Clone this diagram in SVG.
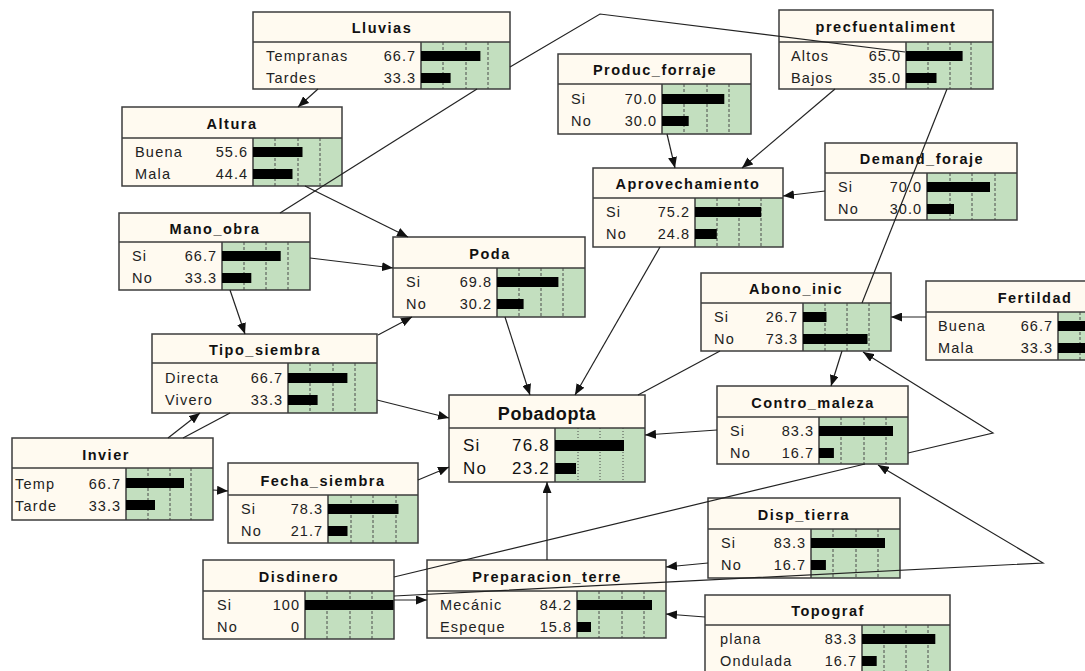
<svg xmlns="http://www.w3.org/2000/svg" width="1085" height="671" viewBox="0 0 1085 671">
<style>
.box{fill:#fffaf0}
.bg{fill:#c3dfbf}
.frame{fill:none;stroke:#3c3c3c;stroke-width:1.5}
.sep{stroke:#3c3c3c;stroke-width:1.5}
.dv{stroke:#4a4a4a;stroke-width:1;stroke-dasharray:3,2}
.dt{stroke:#4a4a4a;stroke-width:1;stroke-dasharray:1,2}
.bar{fill:#000}
.t{font-family:"Liberation Sans",Arial,sans-serif;font-weight:bold;font-size:14.5px;letter-spacing:1.5px;text-anchor:middle;fill:#111}
.l{font-family:"Liberation Sans",Arial,sans-serif;font-size:14.5px;letter-spacing:1.2px;fill:#222}
.v{font-family:"Liberation Sans",Arial,sans-serif;font-size:14.5px;letter-spacing:1px;fill:#222;text-anchor:end}
.tb{font-family:"Liberation Sans",Arial,sans-serif;font-weight:bold;font-size:18px;letter-spacing:0.6px;text-anchor:middle;fill:#111}
.lb{font-family:"Liberation Sans",Arial,sans-serif;font-size:17px;letter-spacing:1.2px;fill:#111}
.vb{font-family:"Liberation Sans",Arial,sans-serif;font-size:17px;letter-spacing:1.2px;fill:#111;text-anchor:end}
.c{fill:none;stroke:#222;stroke-width:1.2}
.ca{fill:none;stroke:#222;stroke-width:1.2;marker-end:url(#a)}
</style>
<defs>
<marker id="a" markerUnits="userSpaceOnUse" markerWidth="11" markerHeight="9" refX="11" refY="4.5" orient="auto">
<path d="M0,0 L11,4.5 L0,9 z" fill="#111"/>
</marker>
</defs>

<g id="n-lluvias">
<rect class="box" x="253" y="12" width="257" height="77"/>
<rect class="bg" x="421" y="42" width="89" height="47"/>
<line class="dv" x1="443" y1="42" x2="443" y2="89"/><line class="dv" x1="466" y1="42" x2="466" y2="89"/><line class="dv" x1="488" y1="42" x2="488" y2="89"/>
<line class="sep" x1="253" y1="42" x2="510" y2="42"/><line class="sep" x1="421" y1="42" x2="421" y2="89"/>
<text class="t" x="382" y="33">Lluvias</text>
<text class="l" x="266" y="61">Tempranas</text><text class="v" x="416" y="61">66.7</text>
<text class="l" x="266" y="83">Tardes</text><text class="v" x="416" y="83">33.3</text>
<rect class="bar" x="421" y="51" width="59.4" height="10"/><rect class="bar" x="421" y="73" width="29.6" height="10"/>
<rect class="frame" x="253" y="12" width="257" height="77"/>
</g>

<g id="n-altura">
<rect class="box" x="122" y="107" width="220" height="79"/>
<rect class="bg" x="253" y="138" width="89" height="48"/>
<line class="dv" x1="275" y1="138" x2="275" y2="186"/><line class="dv" x1="298" y1="138" x2="298" y2="186"/><line class="dv" x1="320" y1="138" x2="320" y2="186"/>
<line class="sep" x1="122" y1="138" x2="342" y2="138"/><line class="sep" x1="253" y1="138" x2="253" y2="186"/>
<text class="t" x="232" y="129">Altura</text>
<text class="l" x="135" y="157">Buena</text><text class="v" x="248" y="157">55.6</text>
<text class="l" x="135" y="179">Mala</text><text class="v" x="248" y="179">44.4</text>
<rect class="bar" x="253" y="147" width="49.5" height="10"/><rect class="bar" x="253" y="169" width="39.5" height="10"/>
<rect class="frame" x="122" y="107" width="220" height="79"/>
</g>

<g id="n-produc">
<rect class="box" x="558" y="54" width="193" height="80"/>
<rect class="bg" x="662" y="84" width="89" height="50"/>
<line class="dv" x1="684" y1="84" x2="684" y2="134"/><line class="dv" x1="707" y1="84" x2="707" y2="134"/><line class="dv" x1="729" y1="84" x2="729" y2="134"/>
<line class="sep" x1="558" y1="84" x2="751" y2="84"/><line class="sep" x1="662" y1="84" x2="662" y2="134"/>
<text class="t" x="655" y="75">Produc_forraje</text>
<text class="l" x="571" y="104">Si</text><text class="v" x="657" y="104">70.0</text>
<text class="l" x="571" y="126">No</text><text class="v" x="657" y="126">30.0</text>
<rect class="bar" x="662" y="94" width="62.3" height="10"/><rect class="bar" x="662" y="116" width="26.7" height="10"/>
<rect class="frame" x="558" y="54" width="193" height="80"/>
</g>

<g id="n-precf">
<rect class="box" x="779" y="10" width="214" height="79"/>
<rect class="bg" x="906" y="42" width="87" height="47"/>
<line class="dv" x1="928" y1="42" x2="928" y2="89"/><line class="dv" x1="950" y1="42" x2="950" y2="89"/><line class="dv" x1="971" y1="42" x2="971" y2="89"/>
<line class="sep" x1="779" y1="42" x2="993" y2="42"/><line class="sep" x1="906" y1="42" x2="906" y2="89"/>
<text class="t" x="886" y="32">precfuentaliment</text>
<text class="l" x="791" y="61">Altos</text><text class="v" x="901" y="61">65.0</text>
<text class="l" x="791" y="83">Bajos</text><text class="v" x="901" y="83">35.0</text>
<rect class="bar" x="906" y="51" width="56.6" height="10"/><rect class="bar" x="906" y="73" width="30.5" height="10"/>
<rect class="frame" x="779" y="10" width="214" height="79"/>
</g>

<g id="n-aprov">
<rect class="box" x="593" y="168" width="190" height="79"/>
<rect class="bg" x="695" y="198" width="88" height="49"/>
<line class="dv" x1="717" y1="198" x2="717" y2="247"/><line class="dv" x1="739" y1="198" x2="739" y2="247"/><line class="dv" x1="761" y1="198" x2="761" y2="247"/>
<line class="sep" x1="593" y1="198" x2="783" y2="198"/><line class="sep" x1="695" y1="198" x2="695" y2="247"/>
<text class="t" x="688" y="189">Aprovechamiento</text>
<text class="l" x="606" y="217">Si</text><text class="v" x="690" y="217">75.2</text>
<text class="l" x="606" y="239">No</text><text class="v" x="690" y="239">24.8</text>
<rect class="bar" x="695" y="207" width="66.2" height="10"/><rect class="bar" x="695" y="229" width="21.8" height="10"/>
<rect class="frame" x="593" y="168" width="190" height="79"/>
</g>

<g id="n-demand">
<rect class="box" x="825" y="143" width="192" height="77"/>
<rect class="bg" x="927" y="173" width="90" height="47"/>
<line class="dv" x1="950" y1="173" x2="950" y2="220"/><line class="dv" x1="972" y1="173" x2="972" y2="220"/><line class="dv" x1="995" y1="173" x2="995" y2="220"/>
<line class="sep" x1="825" y1="173" x2="1017" y2="173"/><line class="sep" x1="927" y1="173" x2="927" y2="220"/>
<text class="t" x="922" y="164">Demand_foraje</text>
<text class="l" x="838" y="192">Si</text><text class="v" x="922" y="192">70.0</text>
<text class="l" x="838" y="214">No</text><text class="v" x="922" y="214">30.0</text>
<rect class="bar" x="927" y="182" width="63" height="10"/><rect class="bar" x="927" y="204" width="27" height="10"/>
<rect class="frame" x="825" y="143" width="192" height="77"/>
</g>

<g id="n-mano">
<rect class="box" x="119" y="213" width="191" height="77"/>
<rect class="bg" x="222" y="242" width="88" height="48"/>
<line class="dv" x1="244" y1="242" x2="244" y2="290"/><line class="dv" x1="266" y1="242" x2="266" y2="290"/><line class="dv" x1="288" y1="242" x2="288" y2="290"/>
<line class="sep" x1="119" y1="242" x2="310" y2="242"/><line class="sep" x1="222" y1="242" x2="222" y2="290"/>
<text class="t" x="215" y="234">Mano_obra</text>
<text class="l" x="132" y="261">Si</text><text class="v" x="217" y="261">66.7</text>
<text class="l" x="132" y="283">No</text><text class="v" x="217" y="283">33.3</text>
<rect class="bar" x="222" y="251" width="58.7" height="10"/><rect class="bar" x="222" y="273" width="29.3" height="10"/>
<rect class="frame" x="119" y="213" width="191" height="77"/>
</g>

<g id="n-poda">
<rect class="box" x="393" y="237" width="192" height="80"/>
<rect class="bg" x="497" y="268" width="88" height="49"/>
<line class="dv" x1="519" y1="268" x2="519" y2="317"/><line class="dv" x1="541" y1="268" x2="541" y2="317"/><line class="dv" x1="563" y1="268" x2="563" y2="317"/>
<line class="sep" x1="393" y1="268" x2="585" y2="268"/><line class="sep" x1="497" y1="268" x2="497" y2="317"/>
<text class="t" x="490" y="259">Poda</text>
<text class="l" x="406" y="287">Si</text><text class="v" x="492" y="287">69.8</text>
<text class="l" x="406" y="309">No</text><text class="v" x="492" y="309">30.2</text>
<rect class="bar" x="497" y="277" width="61.4" height="10"/><rect class="bar" x="497" y="299" width="26.6" height="10"/>
<rect class="frame" x="393" y="237" width="192" height="80"/>
</g>

<g id="n-abono">
<rect class="box" x="701" y="273" width="190" height="78"/>
<rect class="bg" x="803" y="303" width="88" height="48"/>
<line class="dv" x1="825" y1="303" x2="825" y2="351"/><line class="dv" x1="847" y1="303" x2="847" y2="351"/><line class="dv" x1="869" y1="303" x2="869" y2="351"/>
<line class="sep" x1="701" y1="303" x2="891" y2="303"/><line class="sep" x1="803" y1="303" x2="803" y2="351"/>
<text class="t" x="796" y="294">Abono_inic</text>
<text class="l" x="714" y="322">Si</text><text class="v" x="798" y="322">26.7</text>
<text class="l" x="714" y="344">No</text><text class="v" x="798" y="344">73.3</text>
<rect class="bar" x="803" y="312" width="23.5" height="10"/><rect class="bar" x="803" y="334" width="64.5" height="10"/>
<rect class="frame" x="701" y="273" width="190" height="78"/>
</g>

<g id="n-fertildad">
<rect class="box" x="926" y="281" width="218" height="79"/>
<rect class="bg" x="1058" y="312" width="86" height="48"/>
<line class="dv" x1="1080" y1="312" x2="1080" y2="360"/><line class="dv" x1="1101" y1="312" x2="1101" y2="360"/><line class="dv" x1="1123" y1="312" x2="1123" y2="360"/>
<line class="sep" x1="926" y1="312" x2="1144" y2="312"/><line class="sep" x1="1058" y1="312" x2="1058" y2="360"/>
<text class="t" x="1035" y="303">Fertildad</text>
<text class="l" x="938" y="331">Buena</text><text class="v" x="1053" y="331">66.7</text>
<text class="l" x="938" y="353">Mala</text><text class="v" x="1053" y="353">33.3</text>
<rect class="bar" x="1058" y="321" width="57" height="10"/><rect class="bar" x="1058" y="343" width="29" height="10"/>
<rect class="frame" x="926" y="281" width="218" height="79"/>
</g>

<g id="n-tipo">
<rect class="box" x="152" y="334" width="225" height="79"/>
<rect class="bg" x="288" y="363" width="89" height="50"/>
<line class="dv" x1="310" y1="363" x2="310" y2="413"/><line class="dv" x1="333" y1="363" x2="333" y2="413"/><line class="dv" x1="355" y1="363" x2="355" y2="413"/>
<line class="sep" x1="152" y1="363" x2="377" y2="363"/><line class="sep" x1="288" y1="363" x2="288" y2="413"/>
<text class="t" x="265" y="355">Tipo_siembra</text>
<text class="l" x="165" y="383">Directa</text><text class="v" x="283" y="383">66.7</text>
<text class="l" x="165" y="405">Vivero</text><text class="v" x="283" y="405">33.3</text>
<rect class="bar" x="288" y="373" width="59.4" height="10"/><rect class="bar" x="288" y="395" width="29.6" height="10"/>
<rect class="frame" x="152" y="334" width="225" height="79"/>
</g>

<g id="n-pobadopta">
<rect class="box" x="449" y="395" width="196" height="87"/>
<rect class="bg" x="555" y="428" width="90" height="54"/>
<line class="dt" x1="578" y1="428" x2="578" y2="482"/><line class="dt" x1="600" y1="428" x2="600" y2="482"/><line class="dt" x1="623" y1="428" x2="623" y2="482"/>
<line class="sep" x1="449" y1="428" x2="645" y2="428"/><line class="sep" x1="555" y1="428" x2="555" y2="482"/>
<text class="tb" x="547" y="420">Pobadopta</text>
<text class="lb" x="463" y="451">Si</text><text class="vb" x="550" y="451">76.8</text>
<text class="lb" x="463" y="474">No</text><text class="vb" x="550" y="474">23.2</text>
<rect class="bar" x="555" y="440" width="69" height="11"/><rect class="bar" x="555" y="463" width="21" height="11"/>
<rect class="frame" x="449" y="395" width="196" height="87"/>
</g>

<g id="n-invier">
<rect class="box" x="12" y="438" width="201" height="82"/>
<rect class="bg" x="126" y="468" width="87" height="52"/>
<line class="dv" x1="148" y1="468" x2="148" y2="520"/><line class="dv" x1="170" y1="468" x2="170" y2="520"/><line class="dv" x1="191" y1="468" x2="191" y2="520"/>
<line class="sep" x1="12" y1="468" x2="213" y2="468"/><line class="sep" x1="126" y1="468" x2="126" y2="520"/>
<text class="t" x="106" y="460">Invier</text>
<text class="l" x="15" y="489">Temp</text><text class="v" x="121" y="489">66.7</text>
<text class="l" x="15" y="511">Tarde</text><text class="v" x="121" y="511">33.3</text>
<rect class="bar" x="126" y="478" width="58" height="10"/><rect class="bar" x="126" y="500" width="29" height="10"/>
<rect class="frame" x="12" y="438" width="201" height="82"/>
</g>

<g id="n-fecha">
<rect class="box" x="228" y="463" width="190" height="80"/>
<rect class="bg" x="328" y="495" width="90" height="48"/>
<line class="dv" x1="351" y1="495" x2="351" y2="543"/><line class="dv" x1="373" y1="495" x2="373" y2="543"/><line class="dv" x1="396" y1="495" x2="396" y2="543"/>
<line class="sep" x1="228" y1="495" x2="418" y2="495"/><line class="sep" x1="328" y1="495" x2="328" y2="543"/>
<text class="t" x="323" y="486">Fecha_siembra</text>
<text class="l" x="241" y="514">Si</text><text class="v" x="323" y="514">78.3</text>
<text class="l" x="241" y="536">No</text><text class="v" x="323" y="536">21.7</text>
<rect class="bar" x="328" y="504" width="70.5" height="10"/><rect class="bar" x="328" y="526" width="19.5" height="10"/>
<rect class="frame" x="228" y="463" width="190" height="80"/>
</g>

<g id="n-contro">
<rect class="box" x="717" y="386" width="191" height="78"/>
<rect class="bg" x="819" y="417" width="89" height="47"/>
<line class="dv" x1="841" y1="417" x2="841" y2="464"/><line class="dv" x1="864" y1="417" x2="864" y2="464"/><line class="dv" x1="886" y1="417" x2="886" y2="464"/>
<line class="sep" x1="717" y1="417" x2="908" y2="417"/><line class="sep" x1="819" y1="417" x2="819" y2="464"/>
<text class="t" x="813" y="408">Contro_maleza</text>
<text class="l" x="730" y="436">Si</text><text class="v" x="814" y="436">83.3</text>
<text class="l" x="730" y="458">No</text><text class="v" x="814" y="458">16.7</text>
<rect class="bar" x="819" y="426" width="74" height="10"/><rect class="bar" x="819" y="448" width="14.9" height="10"/>
<rect class="frame" x="717" y="386" width="191" height="78"/>
</g>

<g id="n-disp">
<rect class="box" x="708" y="498" width="192" height="80"/>
<rect class="bg" x="811" y="529" width="89" height="49"/>
<line class="dv" x1="833" y1="529" x2="833" y2="578"/><line class="dv" x1="856" y1="529" x2="856" y2="578"/><line class="dv" x1="878" y1="529" x2="878" y2="578"/>
<line class="sep" x1="708" y1="529" x2="900" y2="529"/><line class="sep" x1="811" y1="529" x2="811" y2="578"/>
<text class="t" x="804" y="520">Disp_tierra</text>
<text class="l" x="721" y="548">Si</text><text class="v" x="806" y="548">83.3</text>
<text class="l" x="721" y="570">No</text><text class="v" x="806" y="570">16.7</text>
<rect class="bar" x="811" y="538" width="74" height="10"/><rect class="bar" x="811" y="560" width="14.9" height="10"/>
<rect class="frame" x="708" y="498" width="192" height="80"/>
</g>

<g id="n-disdinero">
<rect class="box" x="203" y="560" width="191" height="79"/>
<rect class="bg" x="305" y="591" width="89" height="48"/>
<line class="dv" x1="327" y1="591" x2="327" y2="639"/><line class="dv" x1="350" y1="591" x2="350" y2="639"/><line class="dv" x1="372" y1="591" x2="372" y2="639"/>
<line class="sep" x1="203" y1="591" x2="394" y2="591"/><line class="sep" x1="305" y1="591" x2="305" y2="639"/>
<text class="t" x="299" y="582">Disdinero</text>
<text class="l" x="217" y="610">Si</text><text class="v" x="300" y="610">100</text>
<text class="l" x="217" y="632">No</text><text class="v" x="300" y="632">0</text>
<rect class="bar" x="305" y="600" width="89" height="10"/>
<rect class="frame" x="203" y="560" width="191" height="79"/>
</g>

<g id="n-prep">
<rect class="box" x="427" y="560" width="239" height="78"/>
<rect class="bg" x="577" y="591" width="89" height="47"/>
<line class="dv" x1="599" y1="591" x2="599" y2="638"/><line class="dv" x1="622" y1="591" x2="622" y2="638"/><line class="dv" x1="644" y1="591" x2="644" y2="638"/>
<line class="sep" x1="427" y1="591" x2="666" y2="591"/><line class="sep" x1="577" y1="591" x2="577" y2="638"/>
<text class="t" x="547" y="582">Preparacion_terre</text>
<text class="l" x="440" y="610">Mecánic</text><text class="v" x="572" y="610">84.2</text>
<text class="l" x="440" y="632">Espeque</text><text class="v" x="572" y="632">15.8</text>
<rect class="bar" x="577" y="600" width="75" height="10"/><rect class="bar" x="577" y="622" width="14" height="10"/>
<rect class="frame" x="427" y="560" width="239" height="78"/>
</g>

<g id="n-topograf">
<rect class="box" x="705" y="595" width="245" height="80"/>
<rect class="bg" x="862" y="625" width="88" height="50"/>
<line class="dv" x1="884" y1="625" x2="884" y2="675"/><line class="dv" x1="906" y1="625" x2="906" y2="675"/><line class="dv" x1="928" y1="625" x2="928" y2="675"/>
<line class="sep" x1="705" y1="625" x2="950" y2="625"/><line class="sep" x1="862" y1="625" x2="862" y2="675"/>
<text class="t" x="828" y="616">Topograf</text>
<text class="l" x="720" y="644">plana</text><text class="v" x="857" y="644">83.3</text>
<text class="l" x="720" y="666">Ondulada</text><text class="v" x="857" y="666">16.7</text>
<rect class="bar" x="862" y="634" width="73.3" height="10"/><rect class="bar" x="862" y="656" width="14.7" height="10"/>
<rect class="frame" x="705" y="595" width="245" height="80"/>
</g>

<g id="connectors">
<path class="ca" d="M318,89 L298,107"/>
<path class="c" d="M477,89 L280,213"/>
<path class="c" d="M510,67 L600,14 L905,52"/>
<path class="ca" d="M835,89 L742,168"/>
<path class="ca" d="M667,134 L675,168"/>
<path class="c" d="M947,89 L862,303"/>
<path class="ca" d="M825,191 L783,196"/>
<path class="ca" d="M305,186 L408,237"/>
<path class="ca" d="M310,258 L393,268"/>
<path class="ca" d="M230,290 L245,334"/>
<path class="ca" d="M378,335 L412,317"/>
<path class="ca" d="M377,400 L449,418"/>
<path class="ca" d="M505,317 L530,395"/>
<path class="ca" d="M660,247 L575,395"/>
<path class="c" d="M720,351 L638,395"/>
<path class="ca" d="M842,351 L831,386"/>
<path class="ca" d="M926,317 L891,317"/>
<path class="ca" d="M717,430 L645,435"/>
<path class="ca" d="M908,453 L993,433 L863,352"/>
<path class="ca" d="M394,596 L1043,563 L878,465"/>
<path class="c" d="M394,577 L865,464"/>
<path class="ca" d="M394,600 L427,600"/>
<path class="ca" d="M547,560 L547,482"/>
<path class="ca" d="M708,563 L666,567"/>
<path class="ca" d="M705,617 L666,614"/>
<path class="ca" d="M418,480 L449,467"/>
<path class="ca" d="M213,490 L228,491"/>
<path class="ca" d="M168,438 L200,413"/>
<path class="c" d="M183,438 L230,413"/>
</g>
</svg>
